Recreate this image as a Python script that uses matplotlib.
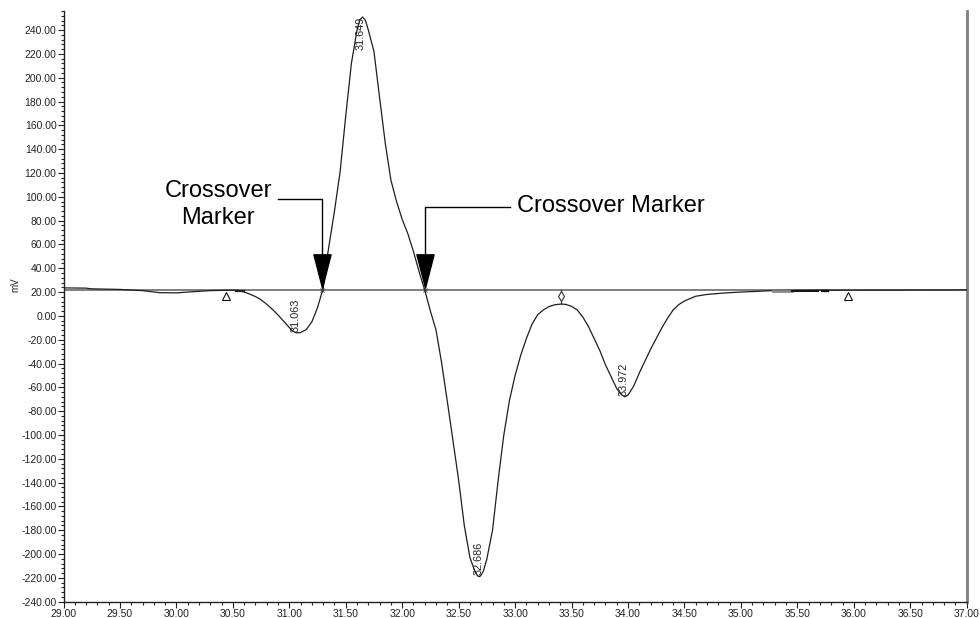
import numpy as np
import matplotlib
matplotlib.use("Agg")
import matplotlib.pyplot as plt
from matplotlib.path import Path
from matplotlib.ticker import MultipleLocator, FormatStrFormatter

plt.rcParams['font.family'] = ['Liberation Sans', 'DejaVu Sans']

# Retention time (min) and detector signal (mV)
times = [29.00, 29.20, 29.25, 29.50, 29.70, 29.85, 30.00, 30.10, 30.30, 30.50,
         30.55, 30.60, 30.65, 30.70, 30.75, 30.80, 30.85, 30.90, 30.95, 31.00,
         31.03, 31.063, 31.10, 31.15, 31.20, 31.25, 31.30, 31.34, 31.40, 31.45,
         31.50, 31.55, 31.60, 31.625, 31.649, 31.675, 31.70, 31.75, 31.80, 31.85,
         31.90, 31.95, 32.00, 32.05, 32.10, 32.15, 32.20, 32.25, 32.30, 32.35,
         32.40, 32.45, 32.50, 32.55, 32.60, 32.65, 32.67, 32.686, 32.70, 32.72,
         32.75, 32.80, 32.85, 32.90, 32.95, 33.00, 33.05, 33.10, 33.15, 33.20,
         33.25, 33.30, 33.35, 33.41, 33.45, 33.50, 33.55, 33.60, 33.65, 33.70,
         33.75, 33.80, 33.85, 33.90, 33.94, 33.972, 34.00, 34.05, 34.10, 34.15,
         34.20, 34.25, 34.30, 34.35, 34.40, 34.45, 34.50, 34.55, 34.60, 34.70,
         34.85, 35.00, 35.15, 35.30, 35.50, 35.70, 36.00, 36.50, 37.00]
signal = [23.5, 23.3, 22.7, 22.2, 21.2, 19.5, 19.3, 20.0, 21.2, 21.6,
          21.4, 20.0, 18.3, 16.2, 13.5, 9.8, 5.5, 0.8, -4.5, -9.8,
          -12.8, -14.3, -14.0, -11.5, -5.0, 7.0, 23.0, 52.0, 88.0, 121.0,
          168.0, 212.0, 240.0, 248.5, 251.0, 248.0, 240.0, 222.0, 183.0, 145.0,
          114.0, 96.0, 81.0, 69.0, 54.0, 37.0, 21.5, 4.0, -12.0, -40.0,
          -72.0, -105.0, -138.0, -176.0, -203.0, -216.0, -218.5, -219.0, -217.5, -214.0,
          -204.0, -180.0, -138.0, -100.0, -71.0, -50.0, -33.0, -19.0, -7.0, 1.0,
          5.0, 7.8, 9.3, 10.0, 9.6, 8.0, 5.0, -1.0, -9.0, -19.0,
          -29.0, -41.0, -51.0, -61.0, -66.0, -68.0, -66.5, -59.0, -48.0, -38.0,
          -28.0, -19.0, -10.0, -2.0, 5.0, 9.5, 12.5, 14.5, 16.5, 18.0,
          19.2, 20.0, 20.6, 21.3, 21.5, 21.6, 21.6, 21.7, 21.8]

baseline_level = 21.5
peak_times = [31.063, 31.649, 32.686, 33.972]
peak_labels = ["31.063", "31.649", "32.686", "33.972"]
event_triangles = [30.44, 35.95]
valley_event = 33.41
event_marker_level = 16.7
crossover_times = [31.29, 32.20]

fig = plt.figure(figsize=(9.8, 6.18), dpi=100)
ax = fig.add_axes([63.5 / 980, 1 - 601.7 / 618, (966.7 - 63.5) / 980, (601.7 - 11) / 618])

ax.set_xlim(29, 37)
ax.set_ylim(-240, 256)

# Baseline and trace
ax.axhline(baseline_level, color='#7f7f7f', lw=1.4, zorder=2)
ax.plot(times, signal, color='#1e1e1e', lw=0.9, zorder=3)

# Integration event marks on the baseline
ax.plot([30.53, 30.60], [baseline_level - 0.8] * 2, color='#222222', lw=1.6, zorder=4)
ax.plot([35.28, 35.45], [baseline_level - 0.3] * 2, color='#8a8a8a', lw=2.0, zorder=4)
ax.plot([35.45, 35.68], [baseline_level - 0.3] * 2, color='#111111', lw=1.4, zorder=4)
ax.plot([35.72, 35.77], [baseline_level - 0.6] * 2, color='#111111', lw=1.6, zorder=4)

ax.plot(event_triangles, [event_marker_level] * len(event_triangles), linestyle='none',
        marker='^', markersize=6, markerfacecolor='white', markeredgecolor='#111111',
        markeredgewidth=0.8, zorder=5)
valley_signal = signal[times.index(valley_event)]
ax.plot([valley_event, valley_event], [baseline_level, valley_signal], color='#333333',
        lw=0.8, zorder=4)
ax.plot([valley_event], [event_marker_level], linestyle='none', marker='d', markersize=5,
        markerfacecolor='white', markeredgecolor='#333333', markeredgewidth=0.8, zorder=5)

# Crossover ticks on the trace
ax.plot(crossover_times, [baseline_level] * 2, linestyle='none', marker='x', markersize=3,
        color='#333333', markeredgewidth=0.6, zorder=5)

# Peak apex labels
for t, lab in zip(peak_times, peak_labels):
    v = signal[times.index(t)]
    if v > baseline_level:
        ax.text(t - 0.02, v, lab, rotation=90, ha='center', va='top', fontsize=7.8,
                color='#222222', zorder=6)
    else:
        ax.text(t - 0.01, v + 1, lab, rotation=90, ha='center', va='bottom', fontsize=7.8,
                color='#222222', zorder=6)

# Crossover marker callouts
head = Path([(-0.515, 1.0), (0.515, 1.0), (0.0, -1.0), (-0.515, 1.0)],
            [Path.MOVETO, Path.LINETO, Path.LINETO, Path.CLOSEPOLY])
leader_levels = [98.5, 91.2]
leader_ends = [30.897, 32.954]
for t, yl, te in zip(crossover_times, leader_levels, leader_ends):
    ax.plot([te, t, t], [yl, yl, 52.0], color='black', lw=1.0, zorder=6)
    ax.plot([t], [38.0], marker=head, markersize=24, color='black', linestyle='none', zorder=7)

ax.text(30.37, 93.5, "Crossover\nMarker", ha='center', va='center', fontsize=17,
        linespacing=1.3, color='black', zorder=6)
ax.text(33.015, 92.0, "Crossover Marker", ha='left', va='center', fontsize=17,
        color='black', zorder=6)

# Axes styling
ax.spines['top'].set_visible(False)
ax.spines['left'].set_color('#222222')
ax.spines['bottom'].set_color('#222222')
ax.spines['left'].set_linewidth(1.0)
ax.spines['bottom'].set_linewidth(1.0)
ax.spines['right'].set_color('#7f7f7f')
ax.spines['right'].set_linewidth(2.0)

ax.xaxis.set_major_locator(MultipleLocator(0.5))
ax.xaxis.set_minor_locator(MultipleLocator(0.1))
ax.yaxis.set_major_locator(MultipleLocator(20))
ax.yaxis.set_minor_locator(MultipleLocator(4))
ax.xaxis.set_major_formatter(FormatStrFormatter('%.2f'))
ax.yaxis.set_major_formatter(FormatStrFormatter('%.2f'))
ax.tick_params(axis='both', which='major', length=4, width=0.8, labelsize=7.5,
               pad=1, colors='#222222')
ax.tick_params(axis='both', which='minor', length=2, width=0.8, colors='#222222')
ax.tick_params(axis='y', which='both', right=False)

fig.text(15 / 980, 1 - 285 / 618, "mV", rotation=90, ha='center', va='center',
         fontsize=7, color='#222222')

fig.savefig("out.png", dpi=100, facecolor='white')
